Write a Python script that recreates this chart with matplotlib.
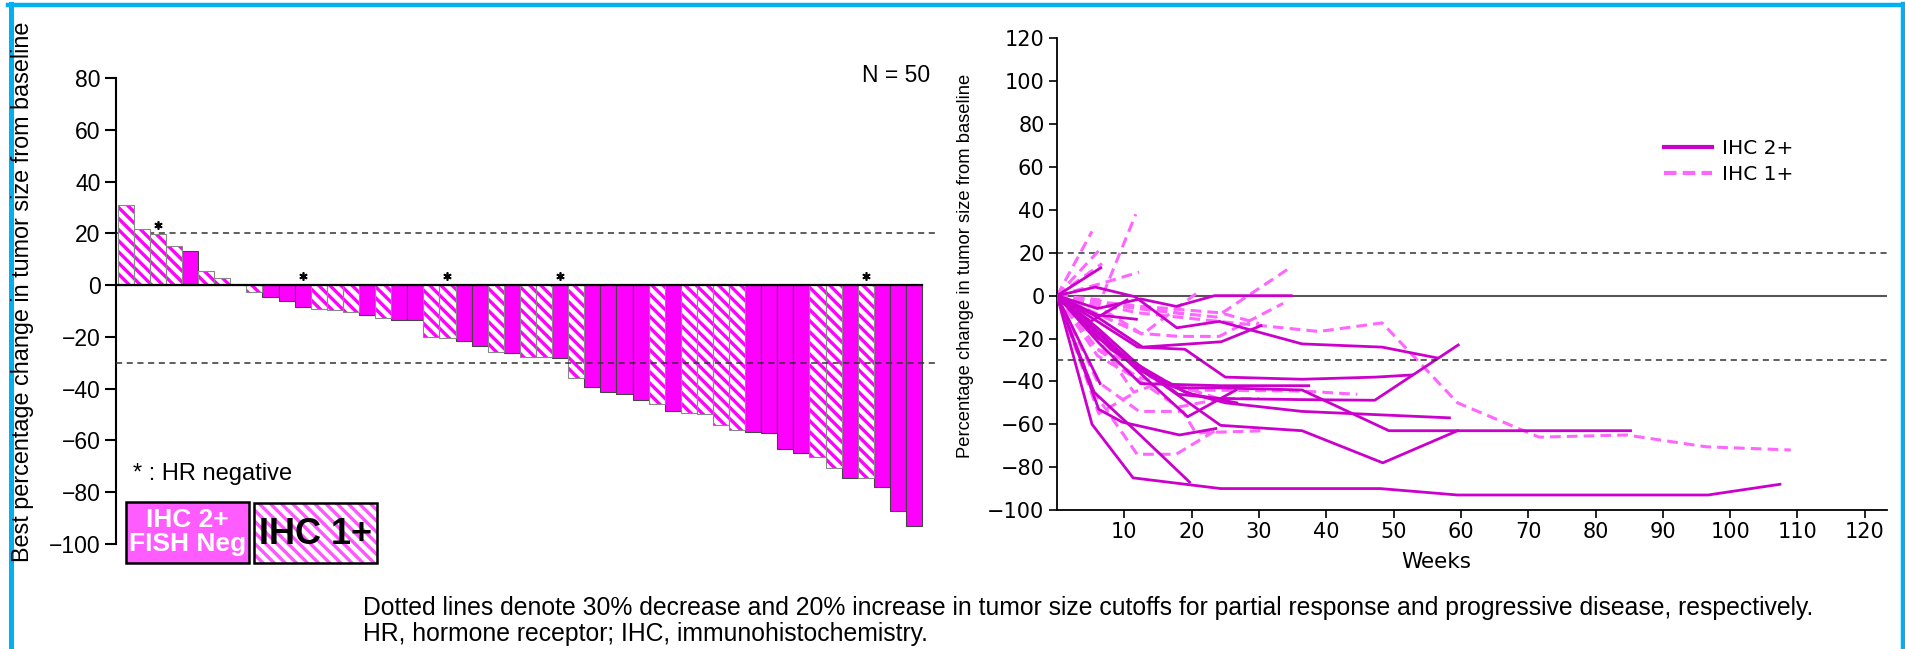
import matplotlib
matplotlib.use("Agg")
import matplotlib.pyplot as plt
from matplotlib.patches import Rectangle
from matplotlib.lines import Line2D
import numpy as np

# ---- waterfall data (best % change, one bar per patient) ----
best_change = [30.8, 21.7, 19.9, 15.1, 13.3, 5.6, 2.9, 0.0, -2.6, -4.5,
               -6.0, -8.6, -9.3, -9.6, -10.5, -11.5, -12.8, -13.3, -13.5, -20.0,
               -20.5, -21.7, -23.6, -25.9, -26.4, -27.7, -27.8, -28.2, -36.0, -39.4,
               -41.3, -42.1, -44.3, -45.8, -48.8, -49.4, -49.7, -54.2, -56.1, -56.6,
               -57.3, -63.2, -65.0, -66.3, -70.8, -74.4, -74.4, -77.9, -87.3, -92.9]
cohort = ['1+', '1+', '1+', '1+', '2+', '1+', '1+', '1+', '1+', '2+',
          '2+', '2+', '1+', '1+', '1+', '2+', '1+', '2+', '2+', '1+',
          '1+', '2+', '2+', '1+', '2+', '1+', '1+', '2+', '1+', '2+',
          '2+', '2+', '2+', '1+', '2+', '1+', '1+', '1+', '1+', '2+',
          '2+', '2+', '2+', '1+', '1+', '2+', '1+', '2+', '2+', '2+']
hr_negative = [3, 12, 21, 28, 47]   # bar numbers (1-based)

# ---- spider data (weeks, % change) ----
ihc2_weeks = [[0, 5.2, 11.3, 24.3, 48.0, 59.5, 96.7, 107.4],
              [0, 10.6, 24.3, 36.4, 48.4, 59.5, 85.2],
              [0, 6.5, 12.4, 18.3, 24.3, 36.4, 49.3, 59.5],
              [0, 6.2, 12.4, 19.0, 25.0, 36.4, 58.3],
              [0, 5.7, 11.6, 17.8, 24.1, 36.4, 48.3, 56.4],
              [0, 6.0, 12.4, 17.7, 23.4, 34.8],
              [0, 6.0, 12.7, 24.4, 30.3],
              [0, 6.5],
              [0, 6.0, 11.8],
              [0, 5.0, 10.4],
              [0, 6.2, 12.4, 24.3, 37.4],
              [0, 12.0, 19.0, 25.0, 36.4, 47.3, 52.7],
              [0, 7.0, 13.0, 19.4, 26.6],
              [0, 8.0, 14.0, 20.0, 26.7],
              [0, 6.0, 12.0, 18.0, 24.3, 36.4, 47.2, 59.6],
              [0, 6.2, 9.7, 18.2, 23.6],
              [0, 5.5, 12.0, 19.7],
              [0, 6.4]]
ihc2_change = [[0, -60, -85, -90, -90, -93, -93, -88],
               [0, -30, -60.5, -63, -78, -63, -63],
               [0, -18, -35, -43, -43, -44, -63, -63],
               [0, -20, -33, -45, -50, -54, -57],
               [0, 4, -0.5, -15, -12, -22.5, -24, -29],
               [0, -6, -1.5, -5, 0, 0],
               [0, -10, -24, -21.5, -14],
               [0, 13],
               [0, -9, -11],
               [0, -12, -2],
               [0, -22, -41, -42, -42],
               [0, -24, -25, -38, -39, -38, -37],
               [0, -20, -38, -56.5, -44],
               [0, -25, -38, -46, -50],
               [0, -15, -32, -46, -48, -48.5, -48.8, -23],
               [0, -53, -59, -65, -62],
               [0, -45, -64, -87],
               [0, -41]]

ihc1_weeks = [[0, 5.2],
              [0, 6.5, 11.7],
              [0, 6.2],
              [0, 6.7],
              [0, 6.7, 12.2],
              [0, 12.0, 24.0, 30.4, 38.9, 48.3, 59.5, 71.6, 84.6, 96.4, 109.0],
              [0, 12.0, 23.6, 34.6],
              [0, 12.4, 18.2, 24.1, 33.6],
              [0, 6.0, 12.7, 21.1],
              [0, 6.0, 12.0, 19.0, 36.4, 44.6],
              [0, 5.5, 11.9, 17.7, 23.5],
              [0, 6.0, 12.2, 18.7, 20.6, 31.0],
              [0, 6.0, 11.4, 16.0, 24.0, 30.0],
              [0, 6.2, 11.7],
              [0, 6.0, 10.0],
              [0, 6.6, 12.6, 24.3, 30.0],
              [0, 6.0, 12.4, 20.0],
              [0, 6.0, 11.5, 18.0, 24.5]]
ihc1_change = [[0, 30],
               [0, -2, 38],
               [0, 21],
               [0, 15],
               [0, 5.8, 11],
               [0, -8, -12, -14, -16.7, -12.7, -50, -66, -65, -70.5, -72],
               [0, -6, -10, 13],
               [0, -17.6, -19, -19, -3.6],
               [0, -5, -18, 2],
               [0, -25, -38, -44, -44.5, -46],
               [0, -45, -74, -74, -63],
               [0, -40, -54, -54, -64, -63],
               [0, -20, -45, -40, -48, -48],
               [0, -55, -45],
               [0, -25, -30],
               [0, -3, -5, -8, -13],
               [0, -4, -6, -9],
               [0, -28, -38, -52, -48]]

MAGENTA = '#FF00FF'
SOLID_LINE = '#CC00CC'
DASH_LINE = '#FF66FF'
ARIAL = ['Liberation Sans', 'DejaVu Sans']

plt.rcParams['hatch.linewidth'] = 2.4

W, H = 1905, 649
fig = plt.figure(figsize=(W / 100, H / 100), dpi=100)

# ================= left: waterfall =================
ax1 = fig.add_axes([116 / W, 1 - 544 / H, 819 / W, 466 / H])
x = np.arange(len(best_change))
vals = np.array(best_change)
is2 = np.array([c == '2+' for c in cohort])

ax1.bar(x[is2], vals[is2], width=1.0, color=MAGENTA, edgecolor='#444444', linewidth=0.8, zorder=2)
ax1.bar(x[~is2], vals[~is2], width=1.0, facecolor='white', edgecolor=MAGENTA,
        hatch='\\\\\\', linewidth=0, zorder=2)
ax1.bar(x[~is2], vals[~is2], width=1.0, facecolor='none', edgecolor='#888888',
        linewidth=0.8, zorder=3)

ax1.plot([-0.5, len(best_change) - 0.5], [0, 0], color='black', lw=1.6, zorder=4)
ax1.axhline(20, color='#333333', lw=1.1, ls=(0, (4, 3)), zorder=1)
ax1.axhline(-30, color='#333333', lw=1.1, ls=(0, (4, 3)), zorder=5)

star_x = [i - 1 for i in hr_negative]
star_y = [max(best_change[i], 0) + 3.4 for i in star_x]
ax1.plot(star_x, star_y, ls='none', marker=(6, 2, 0), ms=6, mew=1.2, color='black', zorder=6)

ax1.set_xlim(-0.6, 50.3)
ax1.set_ylim(-100, 80)
ax1.set_yticks(np.arange(-100, 81, 20))
ax1.set_xticks([])
for s in ['top', 'right', 'bottom']:
    ax1.spines[s].set_visible(False)
ax1.spines['left'].set_linewidth(1.5)
ax1.tick_params(axis='y', length=8, width=1.5, pad=3, labelsize=16.5)
for lab in ax1.get_yticklabels():
    lab.set_family(ARIAL)

fig.text(930 / W, 1 - 75 / H, 'N = 50', ha='right', va='center', fontsize=16.5, family=ARIAL)
fig.text(23 / W, 1 - 292 / H, 'Best percentage change in tumor size from baseline',
         rotation=90, ha='center', va='center', fontsize=16.8, family=ARIAL)
fig.text(133 / W, 1 - 474 / H, '* : HR negative', ha='left', va='center', fontsize=17, family=ARIAL)

# cohort key boxes
fig.add_artist(Rectangle((126 / W, 1 - 563 / H), 123 / W, 61 / H, transform=fig.transFigure,
                         facecolor='#FF5CFF', edgecolor='black', linewidth=1.8))
fig.text(187.5 / W, 1 - 532 / H, 'IHC 2+\nFISH Neg', ha='center', va='center', color='white',
         fontsize=19, fontweight='bold', linespacing=0.95, family=ARIAL)
fig.add_artist(Rectangle((254 / W, 1 - 563 / H), 123 / W, 60 / H, transform=fig.transFigure,
                         facecolor='white', edgecolor='#FF55FF', hatch='\\\\\\', linewidth=0))
fig.add_artist(Rectangle((254 / W, 1 - 563 / H), 123 / W, 60 / H, transform=fig.transFigure,
                         facecolor='none', edgecolor='black', linewidth=1.8))
fig.text(315.5 / W, 1 - 534 / H, 'IHC 1+', ha='center', va='center', color='black',
         fontsize=26, fontweight='bold', family=ARIAL)

# ================= right: spider plot =================
ax2 = fig.add_axes([1057 / W, 1 - 510 / H, 830 / W, 471.5 / H])
for wk, ch in zip(ihc1_weeks, ihc1_change):
    ax2.plot(wk, ch, color=DASH_LINE, lw=2.2, ls=(0, (3.5, 2)), zorder=2)
for wk, ch in zip(ihc2_weeks, ihc2_change):
    ax2.plot(wk, ch, color=SOLID_LINE, lw=2.0, zorder=3)

ax2.axhline(0, color='#555555', lw=1.5, zorder=1)
ax2.axhline(20, color='#333333', lw=1.1, ls=(0, (4, 3)), zorder=1)
ax2.axhline(-30, color='#333333', lw=1.1, ls=(0, (4, 3)), zorder=4)

ax2.set_xlim(0, 123.3)
ax2.set_ylim(-100, 120)
ax2.set_xticks(np.arange(10, 121, 10))
ax2.set_yticks(np.arange(-100, 121, 20))
for s in ['top', 'right']:
    ax2.spines[s].set_visible(False)
ax2.spines['left'].set_linewidth(1.3)
ax2.spines['bottom'].set_linewidth(1.3)
ax2.tick_params(length=6, width=1.2, pad=3, labelsize=15)

handles = [Line2D([], [], color=SOLID_LINE, lw=3),
           Line2D([], [], color=DASH_LINE, lw=3, ls=(0, (3, 1.5)))]
fig.legend(handles, ['IHC 2+', 'IHC 1+'], loc='upper left',
           bbox_to_anchor=(1664 / W, 1 - 139 / H), frameon=False, fontsize=14.5,
           handlelength=2.4, handletextpad=0.5, labelspacing=0.35, borderpad=0, borderaxespad=0)

fig.text(1436 / W, 1 - 562 / H, 'Weeks', ha='center', va='center', fontsize=15.5)
fig.text(966 / W, 1 - 266 / H, 'Percentage change in tumor size from baseline',
         rotation=90, ha='center', va='center', fontsize=13.2, family=ARIAL)

# footnote
fig.text(363 / W, 1 - 615 / H,
         'Dotted lines denote 30% decrease and 20% increase in tumor size cutoffs for partial '
         'response and progressive disease, respectively.',
         ha='left', va='baseline', fontsize=17.8, family=ARIAL)
fig.text(363 / W, 1 - 641 / H, 'HR, hormone receptor; IHC, immunohistochemistry.',
         ha='left', va='baseline', fontsize=17.8, family=ARIAL)

# blue slide frame
BLUE = '#00B0F0'
fig.add_artist(Line2D([10.8 / W, 10.8 / W], [0, 1 - 4 / H], color=BLUE, lw=3.6,
                      transform=fig.transFigure))
fig.add_artist(Line2D([8.3 / W, 1], [1 - 5 / H, 1 - 5 / H], color=BLUE, lw=3.2,
                      transform=fig.transFigure))
fig.add_artist(Line2D([1 - 2 / W, 1 - 2 / W], [0, 1 - 4 / H], color=BLUE, lw=3.2,
                      transform=fig.transFigure))

fig.savefig('out.png', dpi=100)
